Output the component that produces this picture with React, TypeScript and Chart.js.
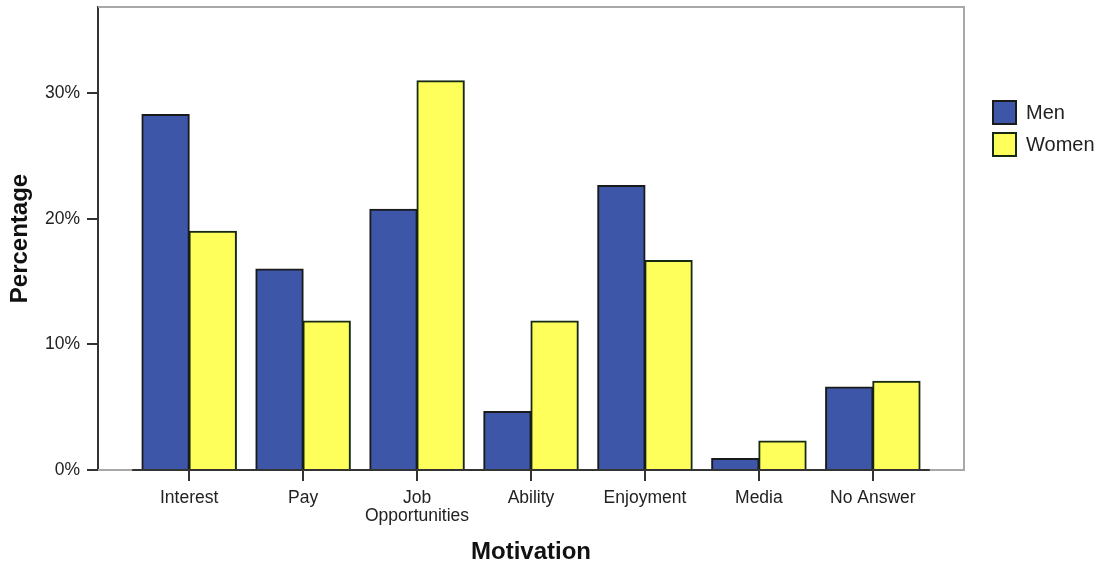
import React, { useEffect, useRef } from "react";
import { Chart, registerables } from "chart.js";

Chart.register(...registerables);

const categories: string[] = ["Interest", "Pay", "Job Opportunities", "Ability", "Enjoyment", "Media", "No Answer"];
const tickLabels: (string | string[])[] = ["Interest", "Pay", ["Job", "Opportunities"], "Ability", "Enjoyment", "Media", "No Answer"];
const menValues: number[] = [28.3, 16.0, 20.75, 4.65, 22.65, 0.9, 6.6];
const womenValues: number[] = [19.0, 11.85, 30.98, 11.85, 16.68, 2.3, 7.05];
const yTicks: number[] = [0, 10, 20, 30];
const seriesNames: string[] = ["Men", "Women"];

const FONT = "'Liberation Sans', Arial, sans-serif";
const MEN_FILL = "#3d56a8";
const WOMEN_FILL = "#ffff5c";

const framePlugin = {
  id: "frame",
  beforeDatasetsDraw(chart: any) {
    const { ctx, chartArea } = chart;
    const { left, right, top, bottom } = chartArea;
    const x = chart.scales.x;
    ctx.save();
    ctx.strokeStyle = "#a8a8a8";
    ctx.lineWidth = 2;
    ctx.beginPath();
    ctx.moveTo(left, top);
    ctx.lineTo(right, top);
    ctx.lineTo(right, bottom);
    ctx.lineTo(left, bottom);
    ctx.stroke();
    ctx.strokeStyle = "#333";
    ctx.lineWidth = 2;
    ctx.beginPath();
    ctx.moveTo(x.getPixelForValue(-0.5), bottom);
    ctx.lineTo(x.getPixelForValue(categories.length - 0.5), bottom);
    ctx.stroke();
    ctx.restore();
  },
};

const legendPlugin = {
  id: "customLegend",
  afterDraw(chart: any) {
    const { ctx, chartArea } = chart;
    const ds = chart.data.datasets;
    ctx.save();
    ctx.font = `20px ${FONT}`;
    ctx.textBaseline = "middle";
    ctx.textAlign = "left";
    const x0 = chartArea.right + 29;
    const y0 = 101;
    ds.forEach((d: any, i: number) => {
      const y = y0 + i * 32;
      ctx.fillStyle = d.backgroundColor;
      ctx.fillRect(x0, y, 23, 23);
      ctx.strokeStyle = d.borderColor;
      ctx.lineWidth = 2;
      ctx.strokeRect(x0, y, 23, 23);
      ctx.fillStyle = "#222";
      ctx.fillText(d.label, x0 + 33, y + 12);
    });
    ctx.restore();
  },
};

export default function App() {
  const ref = useRef<HTMLCanvasElement | null>(null);

  useEffect(() => {
    document.body.style.margin = "0";
    document.body.style.overflow = "hidden";
    const canvas = ref.current;
    if (!canvas) return;
    const chart = new Chart(canvas, {
      type: "bar",
      data: {
        datasets: [
          {
            label: seriesNames[0],
            data: menValues.map((v, i) => ({ x: i, y: v })),
            backgroundColor: MEN_FILL,
            borderColor: "#1a1a1a",
            borderWidth: 2,
            inflateAmount: 0.6,
            categoryPercentage: 0.828,
            barPercentage: 1,
          },
          {
            label: seriesNames[1],
            data: womenValues.map((v, i) => ({ x: i, y: v })),
            backgroundColor: WOMEN_FILL,
            borderColor: "#152a10",
            borderWidth: 2,
            inflateAmount: 0.6,
            categoryPercentage: 0.828,
            barPercentage: 1,
          },
        ],
      },
      options: {
        responsive: false,
        animation: false,
        layout: { padding: { top: 7, right: 136, left: 0, bottom: 0 } },
        plugins: {
          legend: { display: false },
          tooltip: { enabled: false },
        },
        scales: {
          x: {
            type: "linear",
            offset: false,
            min: -0.8,
            max: categories.length - 0.2,
            afterBuildTicks: (scale: any) => {
              scale.ticks = categories.map((_, i) => ({ value: i }));
            },
            afterFit: (scale: any) => {
              scale.height = 97;
              scale.paddingLeft = 0;
              scale.paddingRight = 0;
            },
            grid: {
              offset: false,
              drawOnChartArea: false,
              drawTicks: true,
              tickLength: 11,
              color: "#333",
              lineWidth: 2,
            },
            border: { display: false },
            ticks: {
              autoSkip: false,
              maxRotation: 0,
              minRotation: 0,
              padding: 8,
              color: "#222",
              font: { family: FONT, size: 17.5, lineHeight: 1.02 },
              callback: (v: any) => tickLabels[Math.round(Number(v))] ?? "",
            },
            title: {
              display: true,
              text: "Motivation",
              color: "#111",
              font: { family: FONT, size: 24, weight: "bold" },
              padding: { top: 0, bottom: 0 },
            },
          },
          y: {
            min: 0,
            max: 36.86,
            afterBuildTicks: (scale: any) => {
              scale.ticks = yTicks.map((v) => ({ value: v }));
            },
            afterFit: (scale: any) => {
              scale.width = 98;
              scale.paddingTop = 0;
              scale.paddingBottom = 0;
            },
            grid: {
              drawOnChartArea: false,
              drawTicks: true,
              tickLength: 11,
              color: "#333",
              lineWidth: 2,
            },
            border: { display: true, color: "#333", width: 2 },
            ticks: {
              padding: 7,
              color: "#222",
              font: { family: FONT, size: 17.5 },
              callback: (v: any) => `${v}%`,
            },
            title: {
              display: true,
              text: "Percentage",
              color: "#111",
              font: { family: FONT, size: 24, weight: "bold" },
              padding: { top: 6, bottom: 0 },
            },
          },
        },
      },
      plugins: [framePlugin, legendPlugin],
    } as any);
    return () => chart.destroy();
  }, []);

  return (
    <div style={{ width: 1100, height: 567 }}>
      <canvas ref={ref} width={1100} height={567} style={{ display: "block" }} />
    </div>
  );
}
